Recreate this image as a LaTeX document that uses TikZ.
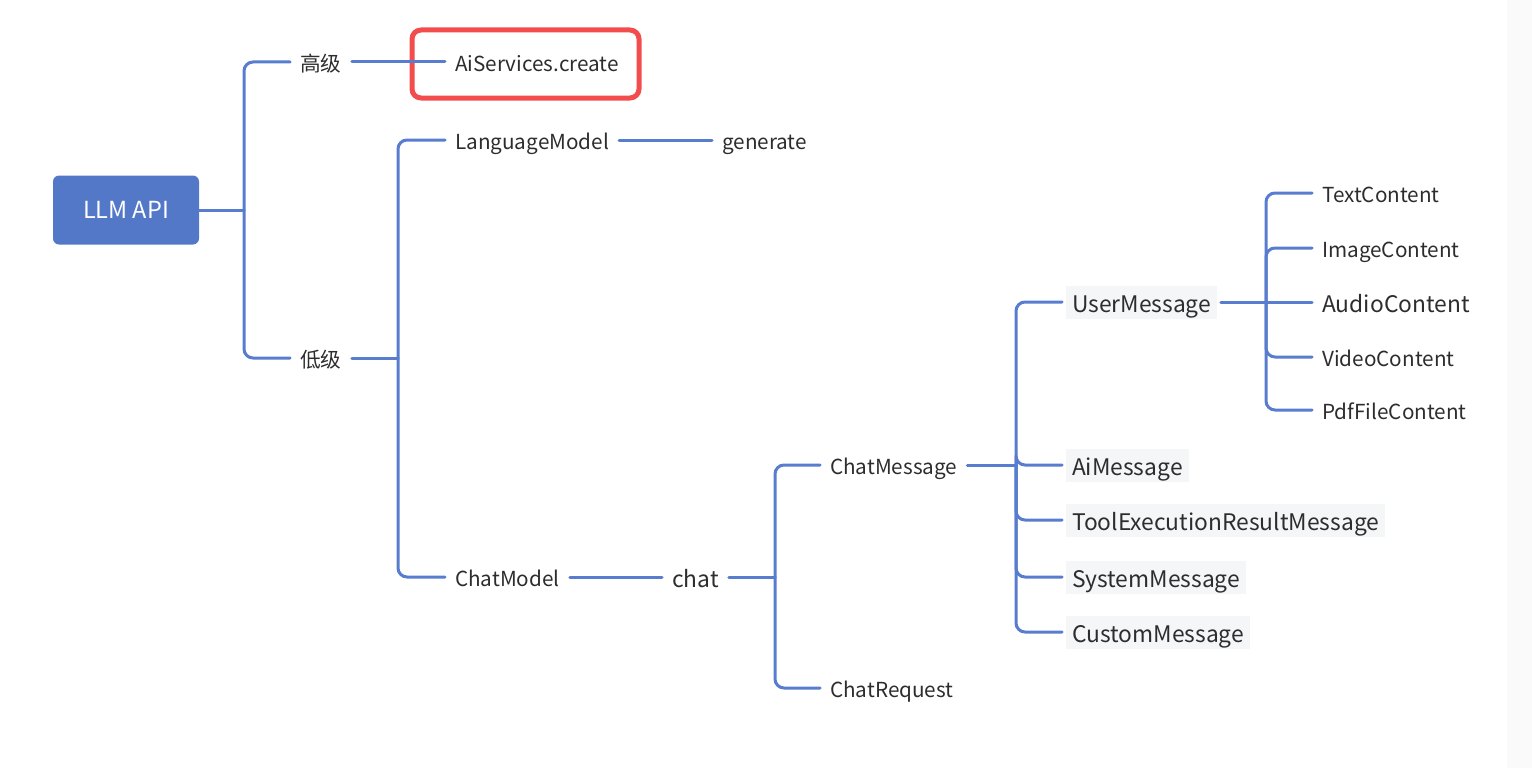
\documentclass[tikz,border=0pt]{standalone}
\usepackage{fontspec}
\setmainfont{Noto Sans CJK SC}
\usetikzlibrary{positioning}

\definecolor{mapblue}{RGB}{88,124,206}
\definecolor{rootblue}{RGB}{84,120,200}
\definecolor{hlred}{RGB}{242,76,76}
\definecolor{inkgray}{RGB}{45,45,45}
\definecolor{tagbg}{RGB}{245,246,248}
\definecolor{sidebg}{RGB}{250,250,250}

\begin{document}
\begin{tikzpicture}[x=1pt, y=-1pt, line cap=round, line join=round,
		link/.style={draw=mapblue, line width=3pt, rounded corners=9pt},
		leaf/.style={font=\fontsize{20.7}{24}\selectfont, text=inkgray, inner xsep=10pt, inner ysep=3pt,
			text height=18pt, text depth=0pt, anchor=west},
		bigleaf/.style={leaf, font=\fontsize{22.8}{26}\selectfont, text height=20pt},
		tag/.style={bigleaf, fill=tagbg, inner xsep=6pt, outer xsep=4pt, inner ysep=0pt, minimum height=33pt},
		rootbox/.style={fill=rootblue, text=white, rounded corners=6pt, minimum width=146pt, minimum height=69pt,
			font=\fontsize{23.5}{27}\selectfont},
		hlbox/.style={draw=hlred, line width=5pt, rounded corners=9pt, minimum width=227pt, minimum height=68pt}]
	% Page size and right margin strip
	\useasboundingbox (0,0) rectangle (1532,768);
	\fill[sidebg] (1507,0) rectangle (1532,768);
	
	% Root
	\node[rootbox] (llm) at (126,210) {LLM API};
	\coordinate (root-fork) at (244,210);
	
	% Level 1: 高级 / 低级
	\node[leaf] (gao) at (290,62) {高级};
	\node[leaf] (di) at (290,358) {低级};
	\draw[link] (llm.east) -- (root-fork);
	\draw[link] (root-fork) |- (gao.west);
	\draw[link] (root-fork) |- (di.west);
	
	% High level API (highlighted)
	\node[hlbox] (hl) at (525.5,64) {};
	\node[leaf] (ai) at (445,62) {AiServices.create};
	\draw[link] (gao.east) -- (ai.west);
	
	% Low level API
	\coordinate (lo-fork) at (398,358);
	\node[leaf] (lm) at (445,140) {LanguageModel};
	\node[leaf] (cm) at (445,577) {ChatModel};
	\draw[link] (di.east) -- (lo-fork);
	\draw[link] (lo-fork) |- (lm.west);
	\draw[link] (lo-fork) |- (cm.west);
	
	\node[leaf] (gen) at (712,140) {generate};
	\draw[link] (lm.east) -- (gen.west);
	
	\node[bigleaf] (chat) at (662,577) {chat};
	\draw[link] (cm.east) -- (chat.west);
	
	% chat arguments
	\coordinate (chat-fork) at (775,577);
	\node[leaf] (cmsg) at (820,465) {ChatMessage};
	\node[leaf] (creq) at (820,688) {ChatRequest};
	\draw[link] (chat.east) -- (chat-fork);
	\draw[link] (chat-fork) |- (cmsg.west);
	\draw[link] (chat-fork) |- (creq.west);
	
	% Message types
	\coordinate (msg-fork) at (1016,465);
	\draw[link] (cmsg.east) -- (msg-fork);
	\foreach \name/\y/\txt in {um/302/UserMessage, aim/465/AiMessage,
		tool/520/ToolExecutionResultMessage, sys/577/SystemMessage, cust/632/CustomMessage}
	{
		\node[tag] (\name) at (1062,\y) {\txt};
		\draw[link] (msg-fork) |- (\name.west);
	}
	
	% Contents of a UserMessage
	\coordinate (um-fork) at (1266,302);
	\draw[link] (um.east) -- (um-fork);
	\foreach \name/\y/\txt in {tc/193/TextContent, ic/248/ImageContent,
		vc/357/VideoContent, pc/410/PdfFileContent}
	{
		\node[leaf] (\name) at (1312,\y) {\txt};
		\draw[link] (um-fork) |- (\name.west);
	}
	\node[bigleaf] (ac) at (1312,302) {AudioContent};
	\draw[link] (um-fork) -- (ac.west);
\end{tikzpicture}
\end{document}
